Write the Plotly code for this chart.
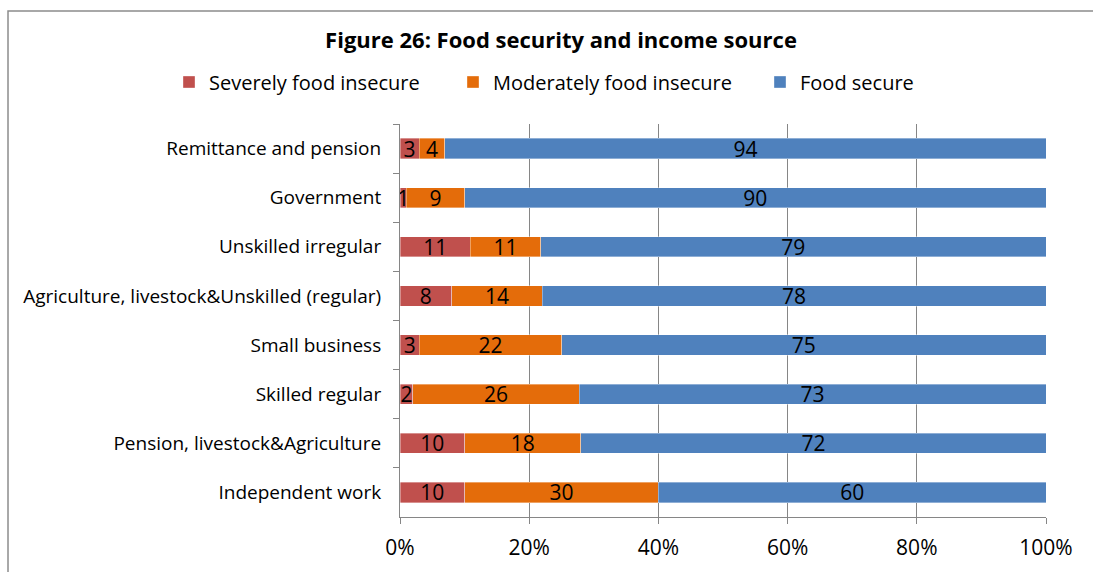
import plotly.graph_objects as go

# Income source categories, listed top to bottom
categories = [
    "Remittance and pension",
    "Government",
    "Unskilled irregular",
    "Agriculture, livestock&Unskilled (regular)",
    "Small business",
    "Skilled regular",
    "Pension, livestock&Agriculture",
    "Independent work",
]

# Share of households (%) in each food security group
severely_insecure = [3, 1, 11, 8, 3, 2, 10, 10]
moderately_insecure = [4, 9, 11, 14, 22, 26, 18, 30]
food_secure = [94, 90, 79, 78, 75, 73, 72, 60]

x_ticks = [0, 20, 40, 60, 80, 100]
x_tick_labels = ["0%", "20%", "40%", "60%", "80%", "100%"]

FONT = "Open Sans, sans-serif"
GRID = "#868686"

# name, values, colour, legend id, legend left edge (px)
series = [
    ("Severely food insecure", severely_insecure, "#C0504D", "legend", 169),
    ("Moderately food insecure", moderately_insecure, "#E46C0A", "legend2", 453),
    ("Food secure", food_secure, "#4F81BD", "legend3", 760),
]

fig = go.Figure()
legend_layout = {}
for name, values, color, legend_id, legend_x in series:
    fig.add_trace(go.Bar(
        name=name,
        y=categories,
        x=values,
        orientation="h",
        legend=legend_id,
        marker=dict(color=color, line=dict(width=0.6, color="rgba(255,255,255,0.6)")),
        text=[str(v) for v in values],
        textposition="inside",
        insidetextanchor="middle",
        textangle=0,
        constraintext="none",
        textfont=dict(family=FONT, size=21, color="black"),
        hoverinfo="name+x",
    ))
    legend_layout[legend_id] = dict(
        orientation="h",
        x=legend_x / 1093, xref="container",
        xanchor="left",
        y=1 - 82 / 572, yref="container",
        yanchor="middle",
        font=dict(family=FONT, size=20, color="black"),
        itemwidth=30,
        bgcolor="rgba(0,0,0,0)",
    )

fig.update_layout(
    width=1093,
    height=572,
    barmode="stack",
    barnorm="percent",
    bargap=0.59,
    paper_bgcolor="white",
    plot_bgcolor="white",
    margin=dict(l=400, r=47, t=124, b=55, autoexpand=False),
    font=dict(family=FONT, size=19, color="black"),
    uniformtext=dict(minsize=21, mode="show"),
    title=dict(
        text="<b>Figure 26: Food security and income source</b>",
        x=561 / 1093, xanchor="center",
        y=1 - 40 / 572, yanchor="middle",
        font=dict(family=FONT, size=22, color="black"),
    ),
    showlegend=True,
    **legend_layout,
)

fig.update_xaxes(
    range=[0, 100],
    tickvals=x_ticks,
    ticktext=x_tick_labels,
    showgrid=True,
    gridcolor=GRID,
    gridwidth=1,
    zeroline=False,
    showline=True,
    linecolor=GRID,
    linewidth=1,
    ticks="outside",
    ticklen=6,
    tickcolor=GRID,
    ticklabelstandoff=6,
    tickfont=dict(family=FONT, size=21, color="black"),
    fixedrange=True,
)

fig.update_yaxes(
    autorange="reversed",
    showgrid=False,
    showline=True,
    linecolor=GRID,
    linewidth=1,
    ticks="outside",
    ticklen=6,
    tickcolor=GRID,
    tickson="boundaries",
    ticklabelstandoff=14,
    tickfont=dict(family=FONT, size=19, color="black"),
    fixedrange=True,
)

# Outer chart border (left and top edges)
fig.add_shape(
    type="path",
    xref="paper", yref="paper",
    path="M -0.6068,-0.14 L -0.6068,1.2875 L 1.0728,1.2875",
    line=dict(color="#8C8C8C", width=1.5),
    layer="above",
)

fig.write_html("out.html")
